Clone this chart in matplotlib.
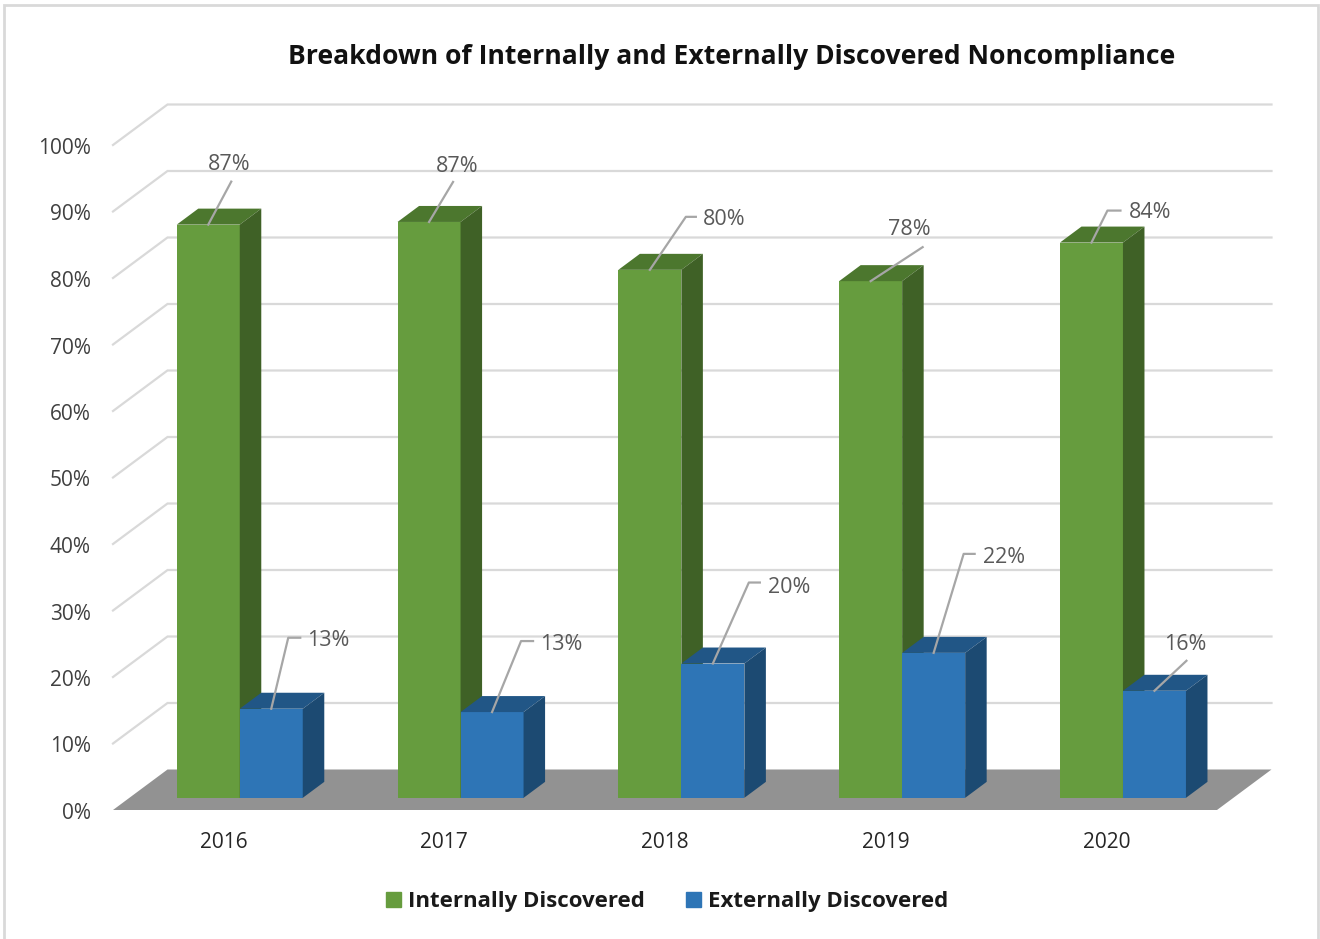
import matplotlib
matplotlib.use("Agg")
import matplotlib.pyplot as plt
from matplotlib.patches import Patch, Rectangle
from matplotlib.transforms import ScaledTranslation

plt.rcParams['font.family'] = ['Open Sans', 'DejaVu Sans']

years = ['2016', '2017', '2018', '2019', '2020']
internal = [86.2, 86.6, 79.4, 77.7, 83.5]
external = [13.4, 12.9, 20.2, 21.8, 16.1]
internal_labels = ['87%', '87%', '80%', '78%', '84%']
external_labels = ['13%', '13%', '20%', '22%', '16%']
y_ticks = [0, 10, 20, 30, 40, 50, 60, 70, 80, 90, 100]

# leader lines in pixels from the top of the bar: elbow x, elbow y, end x, then text x, text y, ha
internal_leaders = [(23, 43, 23, 21, 60, 'center'), (24, 40, 24, 28, 55, 'center'),
                    (36, 53, 46, 53, 50, 'left'), (52, 34, 52, 39, 52, 'center'),
                    (16, 32, 29, 37, 30, 'left')]
external_leaders = [(17, 71, 29, 36, 68, 'left'), (29, 71, 41, 48, 68, 'left'),
                    (36, 81, 47, 55, 76, 'left'), (30, 99, 41, 49, 95, 'left'),
                    (32, 30, 32, 31, 46, 'center')]

W, H = 1320, 939
LEFT, RIGHT, BOTTOM, TOP = 113, 1217, 810, 145
DEPTH_X, DEPTH_Y = 54.5, 40.5
BAR_W = 63

fig = plt.figure(figsize=(W / 100, H / 100), dpi=100, facecolor='white')
ax = fig.add_axes([LEFT / W, 1 - BOTTOM / H, (RIGHT - LEFT) / W, (BOTTOM - TOP) / H])
ax.set_xlim(-0.5, 4.5)
ax.set_ylim(0, 100)
ax.patch.set_visible(False)
for s in ax.spines.values():
    s.set_visible(False)

px_x = (RIGHT - LEFT) / 5
px_y = (BOTTOM - TOP) / 100


def dep(d):
    # depth fraction to data offset
    return d * DEPTH_X / px_x, d * DEPTH_Y / px_y


bx, by = dep(1)

# chart border
fig.add_artist(Rectangle((4 / W, -0.01), 1314 / W, 1 - 5 / H + 0.01, transform=fig.transFigure,
                         fill=False, edgecolor='#d9d9d9', linewidth=2))

# floor and gridlines
ax.fill([-0.5, 4.5, 4.5 + bx, -0.5 + bx], [0, 0, by, by], color='#929292', clip_on=False, zorder=1, lw=0)
for v in y_ticks[1:]:
    ax.plot([-0.5, -0.5 + bx, 4.5 + bx], [v, v + by, v + by], color='#d9d9d9', lw=1.6,
            clip_on=False, zorder=1, solid_joinstyle='miter')

fx, fy = dep(0.30)
dx, dy = dep(0.395)
bw = BAR_W / px_x


def draw_bar(x0, val, front, top, side):
    ax.bar(x0, val, width=bw, bottom=fy, align='edge', color=front, zorder=3, linewidth=0)
    t = val + fy
    ax.fill([x0, x0 + bw, x0 + bw + dx, x0 + dx], [t, t, t + dy, t + dy], color=top, zorder=3,
            lw=0, clip_on=False)
    ax.fill([x0 + bw, x0 + bw + dx, x0 + bw + dx, x0 + bw], [fy, fy + dy, t + dy, t], color=side,
            zorder=3, lw=0, clip_on=False)


def draw_label(xc, yt, text, lead):
    ex, ey, ex2, tx, ty, ha = lead
    ax.plot([xc, xc + ex / px_x, xc + ex2 / px_x], [yt, yt + ey / px_y, yt + ey / px_y],
            color='#a6a6a6', lw=1.6, zorder=5, clip_on=False)
    ax.text(xc + tx / px_x, yt + ty / px_y, text, ha=ha, va='center', fontsize=15.5,
            color='#595959', zorder=6, clip_on=False)


for i in range(5):
    c = i + fx
    draw_bar(c - bw, internal[i], '#669c3e', '#4c772e', '#3f6126')
    draw_bar(c, external[i], '#2e75b6', '#215686', '#1c4a72')
for i in range(5):
    c = i + fx
    draw_label(c - bw / 2, internal[i] + fy, internal_labels[i], internal_leaders[i])
    draw_label(c + bw / 2, external[i] + fy, external_labels[i], external_leaders[i])

ax.set_xticks(range(5))
ax.set_xticklabels(years, fontsize=15, color='#262626')
ax.set_yticks(y_ticks)
ax.set_yticklabels([f'{v}%' for v in y_ticks], fontsize=15, color='#404040')
ax.tick_params(axis='x', length=0, pad=16)
ax.tick_params(axis='y', length=0, pad=16)
down = ScaledTranslation(0, -1 / 100, fig.dpi_scale_trans)
for t in ax.get_yticklabels():
    t.set_transform(t.get_transform() + down)

fig.text(732 / W, 1 - 57 / H, 'Breakdown of Internally and Externally Discovered Noncompliance',
         ha='center', va='center', fontsize=19.1, fontweight='bold', color='#111111')

handles = [Patch(color='#669c3e', label='Internally Discovered'),
           Patch(color='#2e75b6', label='Externally Discovered')]
fig.legend(handles=handles, loc='center', bbox_to_anchor=(667 / W, 1 - 902 / H), ncol=2, frameon=False,
           prop={'size': 16, 'weight': 'bold'}, labelcolor='#1a1a1a', handlelength=0.68, handleheight=0.68,
           handletextpad=0.32, columnspacing=1.85)

fig.savefig('out.png', dpi=100)
